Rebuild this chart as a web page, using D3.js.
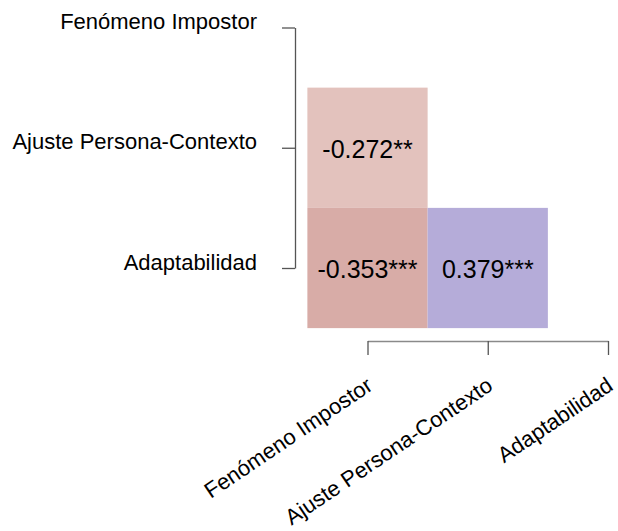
<!DOCTYPE html>
<html>
<head>
<meta charset="utf-8">
<script src="https://cdn.jsdelivr.net/npm/d3@7"></script>
<style>
  html, body { margin: 0; padding: 0; background: #ffffff; }
  svg { display: block; }
  text { font-family: "Liberation Sans", Arial, sans-serif; fill: #000; }
</style>
</head>
<body>
<svg id="chart" width="618" height="531"></svg>
<script>
// Variables in the correlation matrix
const variables = ["Fenómeno Impostor", "Ajuste Persona-Contexto", "Adaptabilidad"];

// Lower-triangle cells: row variable, column variable, correlation, significance stars
const rowVars = ["Ajuste Persona-Contexto", "Adaptabilidad", "Adaptabilidad"];
const colVars = ["Fenómeno Impostor", "Fenómeno Impostor", "Ajuste Persona-Contexto"];
const corrValues = [-0.272, -0.353, 0.379];
const stars = ["**", "***", "***"];

const cells = corrValues.map((v, i) => ({ row: rowVars[i], col: colVars[i], r: v, sig: stars[i] }));

const svg = d3.select("#chart");

const x = d3.scalePoint().domain(variables).range([367.5, 608]);
const y = d3.scalePoint().domain(variables).range([27.5, 268]);
const cw = x.step(), ch = y.step();

// Fill colour by sign and strength of the correlation
const negColor = d3.scaleLinear().domain([-0.353, -0.272]).range(["#d8aca7", "#e3c2bd"]);
const posColor = d3.scaleLinear().domain([0, 0.379]).range(["#ffffff", "#b5acd9"]);
const fill = r => r < 0 ? negColor(r) : posColor(r);

svg.append("g").selectAll("rect")
  .data(cells)
  .join("rect")
  .attr("x", d => x(d.col) - cw / 2)
  .attr("y", d => y(d.row) - ch / 2)
  .attr("width", cw)
  .attr("height", ch)
  .attr("fill", d => fill(d.r));

// Coefficient labels with a plain hyphen for the sign
svg.append("g").selectAll("text")
  .data(cells)
  .join("text")
  .attr("x", d => x(d.col))
  .attr("y", d => y(d.row) + 10)
  .attr("text-anchor", "middle")
  .attr("font-size", 25)
  .text(d => d.r.toFixed(3) + d.sig);

// Left axis
const yAxis = svg.append("g")
  .attr("transform", "translate(295,0)")
  .call(d3.axisLeft(y).tickSize(13).tickSizeOuter(0).tickPadding(0));
yAxis.select(".domain").attr("stroke", "#555").attr("stroke-width", 1.3);
yAxis.selectAll(".tick line").attr("stroke", "#555").attr("stroke-width", 1.3);
yAxis.selectAll(".tick text")
  .attr("x", -38)
  .attr("dy", "0.05em")
  .attr("font-size", 22)
  .attr("font-family", "Liberation Sans, Arial, sans-serif")
  .attr("fill", "#000");

// Bottom axis with slanted labels
const xAxis = svg.append("g")
  .attr("transform", "translate(0,341)")
  .call(d3.axisBottom(x).tickSize(14).tickSizeOuter(0).tickPadding(0));
xAxis.select(".domain").attr("stroke", "#8a8a8a").attr("stroke-width", 1.3);
xAxis.selectAll(".tick line").attr("stroke", "#555").attr("stroke-width", 1.3);
xAxis.selectAll(".tick text")
  .attr("text-anchor", "end")
  .attr("font-size", 22)
  .attr("font-family", "Liberation Sans, Arial, sans-serif")
  .attr("fill", "#000")
  .attr("y", 0)
  .attr("dy", 0)
  .attr("transform", "translate(6,48) rotate(-34)");
</script>
</body>
</html>
